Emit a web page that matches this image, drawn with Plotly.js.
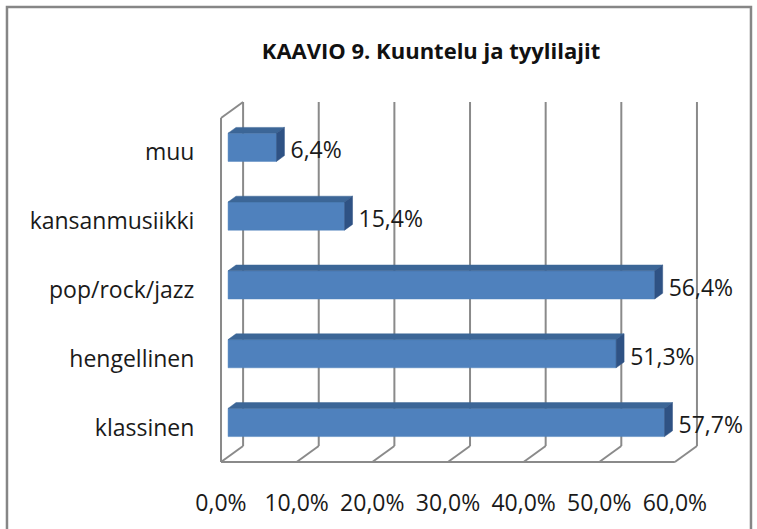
<!DOCTYPE html>
<html>
<head>
<meta charset="utf-8">
<script src="https://cdn.plot.ly/plotly-3.0.1.min.js"></script>
<style>html,body{margin:0;padding:0;background:#fff;}#chart{width:757px;height:529px;}</style>
</head>
<body>
<div id="chart"></div>
<script>
// ---- data ----
const categories = ['klassinen', 'hengellinen', 'pop/rock/jazz', 'kansanmusiikki', 'muu'];
const values = [57.7, 51.3, 56.4, 15.4, 6.4];
const valueLabels = ['57,7%', '51,3%', '56,4%', '15,4%', '6,4%'];
const tickVals = [0, 10, 20, 30, 40, 50, 60];
const tickLabels = ['0,0%', '10,0%', '20,0%', '30,0%', '40,0%', '50,0%', '60,0%'];

// ---- 3D oblique geometry (axis units) ----
const DX = 2.92;    // full depth along x (percent units)
const DY = 0.2326;  // full depth along y (category units)
const zF = 0.32, zB = 0.68; // bar depth slice
const halfH = 0.205;
const labelGap = 0.8; // gap between bar side and value label (x units)
const catIdx = categories.map((c, i) => i);

const frontX = [], frontY = [], topX = [], topY = [], sideX = [], sideY = [];
values.forEach((v, i) => {
  const c = catIdx[i];
  const x0 = DX * zF, x1 = v + DX * zF, x2 = v + DX * zB, x3 = DX * zB;
  const yb = c + DY * zF - halfH, yt = c + DY * zF + halfH;
  const ybB = c + DY * zB - halfH, ytB = c + DY * zB + halfH;
  frontX.push(x0, x1, x1, x0, x0, null); frontY.push(yb, yb, yt, yt, yb, null);
  topX.push(x0, x1, x2, x3, x0, null); topY.push(yt, yt, ytB, ytB, yt, null);
  sideX.push(x1, x2, x2, x1, x1, null); sideY.push(yb, ybB, ytB, yt, yb, null);
});

const poly = (x, y, col) => ({
  type: 'scatter', mode: 'lines', x: x, y: y, fill: 'toself', fillcolor: col,
  line: {width: 0.5, color: col}, hoverinfo: 'skip', showlegend: false, connectgaps: false
});

const traces = [
  poly(frontX, frontY, '#4f81bd'),
  poly(topX, topY, '#3c6697'),
  poly(sideX, sideY, '#2f5284'),
  {
    type: 'scatter', mode: 'text',
    x: values.map(v => v + DX * zB + labelGap),
    y: catIdx,
    text: valueLabels, textposition: 'middle right',
    textfont: {family: 'Open Sans', size: 23, color: '#1a1a1a'},
    cliponaxis: false, hoverinfo: 'skip', showlegend: false
  }
];

// ---- walls / gridlines ----
const lineStyle = {color: '#8a8a8a', width: 2};
const shapes = [];
tickVals.forEach(t => {
  shapes.push({type: 'line', xref: 'x', yref: 'y', x0: t + DX, x1: t + DX, y0: -0.5 + DY, y1: 4.5 + DY, line: lineStyle, layer: 'below'});
  shapes.push({type: 'line', xref: 'x', yref: 'y', x0: t, x1: t + DX, y0: -0.5, y1: -0.5 + DY, line: lineStyle, layer: 'below'});
});
const tMax = tickVals[tickVals.length - 1];
shapes.push({type: 'line', xref: 'x', yref: 'y', x0: 0, x1: tMax, y0: -0.5, y1: -0.5, line: lineStyle, layer: 'below'});
shapes.push({type: 'line', xref: 'x', yref: 'y', x0: 0, x1: 0, y0: -0.5, y1: 4.5, line: lineStyle, layer: 'below'});
shapes.push({type: 'line', xref: 'x', yref: 'y', x0: 0, x1: DX, y0: 4.5, y1: 4.5 + DY, line: lineStyle, layer: 'below'});
// chart frame
shapes.push({type: 'rect', xref: 'paper', yref: 'paper', x0: -0.4417, x1: 1.1083, y0: -0.25, y1: 1.2555,
  line: {color: '#868686', width: 2.5}, layer: 'below'});

const layout = {
  width: 757, height: 529,
  margin: {l: 219, r: 58, t: 100, b: 65},
  paper_bgcolor: '#ffffff', plot_bgcolor: 'rgba(0,0,0,0)',
  title: {
    text: 'KAAVIO 9. Kuuntelu ja tyylilajit',
    font: {family: 'Open Sans', size: 22, weight: 700, color: '#111'},
    x: 431 / 757, xanchor: 'center', xref: 'container',
    y: 1 - 51 / 529, yanchor: 'middle', yref: 'container'
  },
  xaxis: {
    range: [-0.2656, 63.19], showgrid: false, zeroline: false, showline: false,
    tickvals: tickVals, ticktext: tickLabels,
    ticks: 'outside', ticklen: 18, tickcolor: 'rgba(0,0,0,0)',
    tickfont: {family: 'Open Sans', size: 23, color: '#1a1a1a'}, fixedrange: true
  },
  yaxis: {
    range: [-0.529, 4.7616], showgrid: false, zeroline: false, showline: false,
    tickvals: catIdx, ticktext: categories,
    ticks: 'outside', ticklen: 19, tickcolor: 'rgba(0,0,0,0)',
    tickfont: {family: 'Open Sans', size: 23, color: '#1a1a1a'}, fixedrange: true
  },
  shapes: shapes,
  showlegend: false
};

Plotly.newPlot('chart', traces, layout, {displayModeBar: false, staticPlot: true});
</script>
</body>
</html>
